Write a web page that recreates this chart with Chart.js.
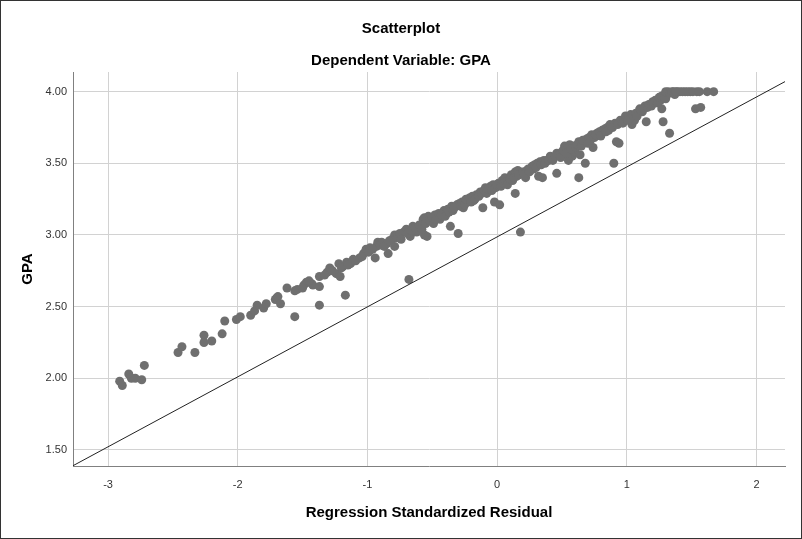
<!DOCTYPE html>
<html>
<head>
<meta charset="utf-8">
<script src="https://cdn.jsdelivr.net/npm/chart.js@4.4.0/dist/chart.umd.min.js"></script>
<style>
  html, body { margin: 0; padding: 0; background: #fff; }
  #wrap { width: 802px; height: 539px; position: relative; }
</style>
</head>
<body>
<div id="wrap"><canvas id="c"></canvas></div>
<script>
// ---- data ----
const chartTitle = 'Scatterplot';
const chartSubtitle = 'Dependent Variable: GPA';
const xAxisTitle = 'Regression Standardized Residual';
const yAxisTitle = 'GPA';

const xTicks = [-3, -2, -1, 0, 1, 2];
const yTicks = [1.5, 2.0, 2.5, 3.0, 3.5, 4.0];

// reference line, two end points
const refLineX = [-3.27, 2.22];
const refLineY = [1.39, 4.07];

// [standardized residual, GPA]
const points = [
  [-2.91,1.98],[-2.89,1.95],[-2.84,2.03],[-2.82,2.00],[-2.79,2.00],[-2.74,1.99],[-2.72,2.09],
  [-2.46,2.18],[-2.43,2.22],[-2.33,2.18],[-2.26,2.30],[-2.26,2.25],[-2.20,2.26],[-2.12,2.31],
  [-2.10,2.40],[-2.01,2.41],[-1.98,2.43],[-1.90,2.44],[-1.87,2.47],[-1.85,2.51],[-1.80,2.49],
  [-1.78,2.52],[-1.71,2.55],[-1.70,2.56],[-1.69,2.57],[-1.67,2.52],[-1.62,2.63],[-1.56,2.61],
  [-1.54,2.62],[-1.49,2.65],[-1.47,2.67],[-1.43,2.66],[-1.42,2.65],[-1.37,2.71],[-1.37,2.64],
  [-1.37,2.51],[-1.56,2.43],[-1.31,2.74],[-1.29,2.77],[-1.24,2.73],[-1.22,2.80],[-1.21,2.71],
  [-1.19,2.78],[-1.17,2.58],[-1.16,2.81],[-1.13,2.80],[-1.11,2.83],[-1.06,2.84],[-1.03,2.87],
  [-1.01,2.90],[-0.98,2.91],[-0.94,2.84],[-0.93,2.92],[-0.92,2.95],[-0.89,2.95],[-0.85,2.94],
  [-0.84,2.87],[-0.81,2.97],[-0.79,3.00],[-0.79,2.92],[-0.72,3.02],[-0.70,3.04],[-0.68,2.69],
  [-0.67,2.99],[-0.65,3.06],[-0.62,3.02],[-0.59,3.05],[-0.57,3.09],[-0.56,3.12],[-0.54,2.99],
  [-0.53,3.13],[-0.57,3.11],[-0.56,3.00],[-0.49,3.08],[-0.48,3.14],[-0.44,3.11],[-0.41,3.17],
  [-0.39,3.15],[-0.36,3.06],[-0.35,3.20],[-0.31,3.21],[-0.30,3.01],[-0.29,3.22],[-0.26,3.19],
  [-0.23,3.23],[-0.21,3.26],[-0.18,3.24],[-0.16,3.28],[-0.13,3.30],[-0.11,3.19],[-0.09,3.33],
  [-0.05,3.34],[-0.03,3.35],[-0.02,3.23],[0.01,3.36],[0.02,3.21],[0.04,3.38],[0.06,3.40],
  [0.09,3.38],[0.11,3.42],[0.14,3.29],[0.14,3.44],[0.16,3.45],[0.18,3.02],[0.19,3.43],
  [0.22,3.40],[0.23,3.45],[0.27,3.48],[0.31,3.50],[0.32,3.41],[0.33,3.51],[0.35,3.40],
  [0.38,3.52],[0.41,3.55],[0.46,3.57],[0.46,3.43],[0.50,3.58],[0.54,3.61],[0.55,3.54],
  [0.58,3.55],[0.59,3.62],[0.63,3.64],[0.63,3.40],[0.52,3.62],[0.55,3.52],[0.56,3.63],
  [0.60,3.58],[0.63,3.65],[0.64,3.56],[0.68,3.50],[0.69,3.67],[0.73,3.70],[0.74,3.61],
  [0.77,3.71],[0.81,3.73],[0.85,3.75],[0.87,3.77],[0.90,3.50],[0.91,3.78],[0.92,3.65],
  [0.94,3.64],[0.95,3.80],[0.99,3.83],[1.03,3.84],[1.04,3.77],[1.06,3.80],[1.10,3.88],
  [1.12,3.86],[1.14,3.90],[1.15,3.79],[1.18,3.91],[1.21,3.92],[1.23,3.93],[1.26,3.94],
  [1.27,3.88],[1.28,3.79],[1.30,3.95],[1.31,3.98],[1.32,4.00],[1.33,3.71],[1.36,4.00],
  [1.39,4.00],[1.41,4.00],[1.45,4.00],[1.49,4.00],[1.53,3.88],[1.54,4.00],[1.57,3.89],
  [1.62,4.00],[1.67,4.00],
  [-1.50,2.63],[-1.45,2.68],[-1.33,2.72],[-1.27,2.75],[-1.20,2.77],[-1.15,2.79],[-1.09,2.82],
  [-1.04,2.85],[-0.99,2.88],[-0.96,2.90],[-0.90,2.93],[-0.87,2.92],[-0.83,2.96],[-0.77,2.98],
  [-0.75,3.01],[-0.74,2.97],[-0.69,3.01],[-0.66,3.03],[-0.63,3.05],[-0.60,3.07],[-0.58,3.04],
  [-0.55,3.08],[-0.52,3.10],[-0.50,3.12],[-0.47,3.11],[-0.45,3.15],[-0.43,3.14],[-0.40,3.13],
  [-0.38,3.18],[-0.37,3.16],[-0.34,3.17],[-0.33,3.19],[-0.28,3.20],[-0.27,3.23],[-0.25,3.21],
  [-0.24,3.25],[-0.20,3.23],[-0.19,3.27],[-0.17,3.25],[-0.14,3.27],[-0.12,3.29],[-0.10,3.31],
  [-0.08,3.29],[-0.07,3.32],[-0.04,3.31],[-0.01,3.33],[0.00,3.35],[0.03,3.34],[0.05,3.36],
  [0.07,3.37],[0.08,3.35],[0.10,3.39],[0.12,3.38],[0.13,3.40],[0.15,3.41],[0.17,3.42],
  [0.20,3.44],[0.21,3.42],[0.24,3.46],[0.25,3.44],[0.28,3.46],[0.29,3.49],[0.30,3.47],
  [0.34,3.49],[0.36,3.52],[0.37,3.50],[0.40,3.52],[0.42,3.54],[0.43,3.52],[0.45,3.55],
  [0.48,3.56],[0.49,3.54],[0.51,3.59],[0.53,3.57],[0.57,3.60],[0.61,3.61],[0.62,3.63],
  [0.65,3.62],[0.66,3.66],[0.70,3.64],[0.71,3.68],[0.72,3.66],[0.75,3.68],[0.76,3.70],
  [0.79,3.72],[0.80,3.69],[0.83,3.74],[0.84,3.72],[0.86,3.73],[0.88,3.76],[0.89,3.75],
  [0.93,3.77],[0.96,3.79],[0.97,3.78],[1.00,3.81],[1.01,3.80],[1.05,3.83],[1.07,3.85],
  [1.08,3.83],[1.11,3.87],[1.13,3.88],[1.16,3.89],[1.17,3.91],[1.19,3.90],[1.20,3.93],
  [1.22,3.94],[1.24,3.92],[1.25,3.96],[1.27,3.97],[1.29,3.96],[1.30,4.00],[1.33,3.99],
  [1.35,4.00],[1.37,3.98],[1.38,4.00],[1.43,4.00],[1.47,4.00],[1.51,4.00],[1.56,4.00]
];

// ---- chart ----
const FONT = '"Liberation Sans", Arial, sans-serif';

const frame = {
  id: 'frame',
  beforeDraw(chart) {
    const ctx = chart.ctx;
    ctx.save();
    ctx.fillStyle = '#ffffff';
    ctx.fillRect(0, 0, chart.width, chart.height);
    ctx.restore();
  },
  afterDraw(chart) {
    const ctx = chart.ctx;
    ctx.save();
    ctx.strokeStyle = '#333333';
    ctx.lineWidth = 1;
    ctx.strokeRect(0.5, 0.5, chart.width - 1, chart.height - 1);
    ctx.restore();
  }
};

new Chart(document.getElementById('c'), {
  type: 'scatter',
  data: {
    datasets: [
      {
        type: 'line',
        data: refLineX.map((x, i) => ({ x: x, y: refLineY[i] })),
        borderColor: '#222222',
        borderWidth: 1,
        pointRadius: 0,
        fill: false,
        order: 0
      },
      {
        data: points.map(p => ({ x: p[0], y: p[1] })),
        backgroundColor: '#6f6f6f',
        borderWidth: 0,
        pointRadius: 4.5,
        pointHoverRadius: 4.5,
        order: 1
      }
    ]
  },
  options: {
    responsive: true,
    maintainAspectRatio: false,
    animation: false,
    layout: { padding: { left: 17, right: 17, top: 0, bottom: 0 } },
    plugins: {
      legend: { display: false },
      tooltip: { enabled: false },
      title: {
        display: true,
        text: chartTitle,
        color: '#000',
        font: { family: FONT, size: 15, weight: 'bold' },
        padding: { top: 20, bottom: 14 }
      },
      subtitle: {
        display: true,
        text: chartSubtitle,
        color: '#000',
        font: { family: FONT, size: 15, weight: 'bold' },
        padding: { top: 0, bottom: 2 }
      }
    },
    scales: {
      x: {
        type: 'linear',
        min: -3.27,
        max: 2.22,
        afterBuildTicks: s => { s.ticks = xTicks.map(v => ({ value: v })); },
        afterFit: s => { s.height = 73; },
        grid: { color: '#d2d2d2', drawTicks: false },
        border: { color: '#808080', width: 1 },
        ticks: {
          padding: 12,
          color: '#333',
          font: { family: FONT, size: 11 },
          callback: v => String(v)
        },
        title: {
          display: true,
          text: xAxisTitle,
          color: '#000',
          font: { family: FONT, size: 15, weight: 'bold' },
          padding: { top: 0, bottom: 17.6 }
        }
      },
      y: {
        type: 'linear',
        min: 1.388,
        max: 4.137,
        afterBuildTicks: s => { s.ticks = yTicks.map(v => ({ value: v })); },
        afterFit: s => { s.width = 56; },
        grid: { color: '#d2d2d2', drawTicks: false },
        border: { color: '#808080', width: 1 },
        ticks: {
          padding: 6,
          color: '#333',
          font: { family: FONT, size: 11 },
          callback: v => Number(v).toFixed(2)
        },
        title: {
          display: true,
          text: yAxisTitle,
          color: '#000',
          font: { family: FONT, size: 15, weight: 'bold' },
          padding: { top: 2, bottom: 0 }
        }
      }
    }
  },
  plugins: [frame]
});
</script>
</body>
</html>
